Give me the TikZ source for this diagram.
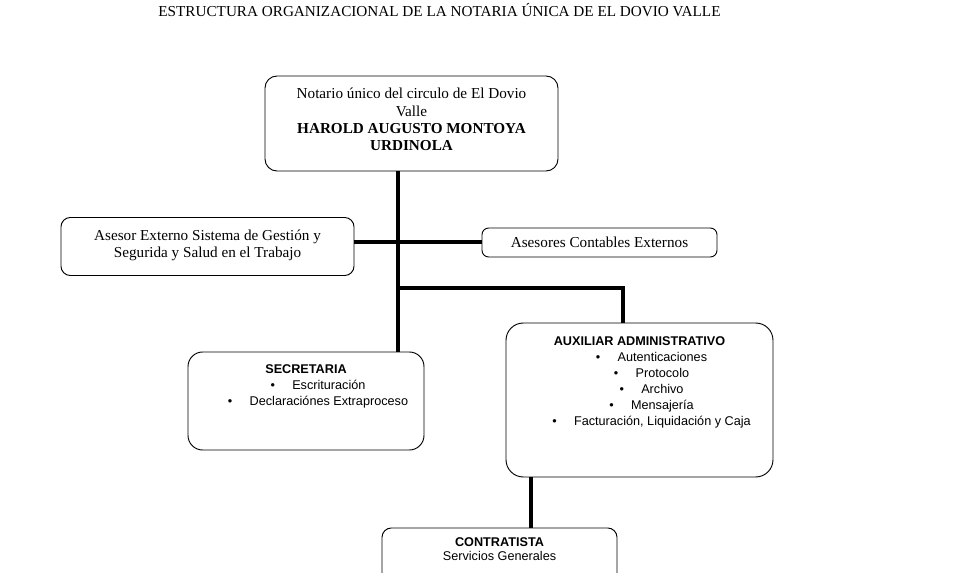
\documentclass[tikz,border=0pt]{standalone}
\usepackage{fontspec}
\setmainfont{Liberation Serif}
\setsansfont{Liberation Sans}
\newcommand{\itm}[1]{\hspace*{18pt}\textbullet\hspace{13pt}#1}

\begin{document}
\begin{tikzpicture}[x=0.75pt,y=-0.75pt,
  every node/.style={inner sep=3pt},
  orgbox/.style={draw,line width=0.7pt,align=center},
  serif/.style={font=\fontsize{11.4}{13}\selectfont},
  sans/.style={font=\sffamily\fontsize{9.5}{12}\selectfont},
  conn/.style={line width=3pt}]
  \useasboundingbox (0,0) rectangle (960,573);
  % title
  \node[font=\fontsize{11.4}{13}\selectfont] (title) at (439.5,10)
    {ESTRUCTURA ORGANIZACIONAL DE LA NOTARIA ÚNICA DE EL DOVIO VALLE};
  % upper boxes
  \node[orgbox,serif,rounded corners=9pt,
        minimum width=219.75pt,minimum height=71.25pt] (notario) at (411.5,123.5)
    {Notario único del circulo de El Dovio\\Valle\\
     \textbf{HAROLD AUGUSTO MONTOYA}\\\textbf{URDINOLA}\\[-7pt]\rule{0pt}{0pt}};
  \node[orgbox,serif,rounded corners=7pt,
        minimum width=219.75pt,minimum height=43.5pt] (asesorsg) at (207.5,246.5)
    {Asesor Externo Sistema de Gestión y\\Segurida y Salud en el Trabajo\\[-9pt]\rule{0pt}{0pt}};
  \node[orgbox,serif,rounded corners=5pt,
        minimum width=176.25pt,minimum height=21.75pt] (contables) at (599.5,242.5)
    {Asesores Contables Externos};
  % lower boxes
  \node[orgbox,sans,rounded corners=11pt,
        minimum width=177pt,minimum height=73.5pt] (secretaria) at (306,401)
    {\textbf{SECRETARIA}\\\itm{Escrituración}\\\itm{Declaraciónes Extraproceso}\\
     \rule{0pt}{21pt}};
  \node[orgbox,sans,rounded corners=13pt,
        minimum width=200.25pt,minimum height=115.5pt] (auxiliar) at (639.5,400)
    {\textbf{AUXILIAR ADMINISTRATIVO}\\\itm{Autenticaciones}\\\itm{Protocolo}\\
     \itm{Archivo}\\\itm{Mensajería}\\\itm{Facturación, Liquidación y Caja}\\
     \rule{0pt}{26pt}};
  \node[orgbox,sans,rounded corners=7pt,
        minimum width=176.25pt,minimum height=45pt] (contratista) at (499.5,558)
    {\textbf{CONTRATISTA}\\[-1.5pt]Servicios Generales\\\rule{0pt}{13pt}};
  % connectors
  \coordinate (trunk) at (398,0);
  \coordinate (split) at (398,288);
  \coordinate (auxdrop) at (623,288);
  \coordinate (lowdrop) at (531,0);
  \draw[conn] (notario.south -| trunk) -- (secretaria.north -| trunk);
  \draw[conn] (asesorsg.east |- contables.west) -- (contables.west);
  \draw[conn] (split) -- (auxdrop) -- (auxdrop |- auxiliar.north);
  \draw[conn] (auxiliar.south -| lowdrop) -- (contratista.north -| lowdrop);
\end{tikzpicture}
\end{document}
